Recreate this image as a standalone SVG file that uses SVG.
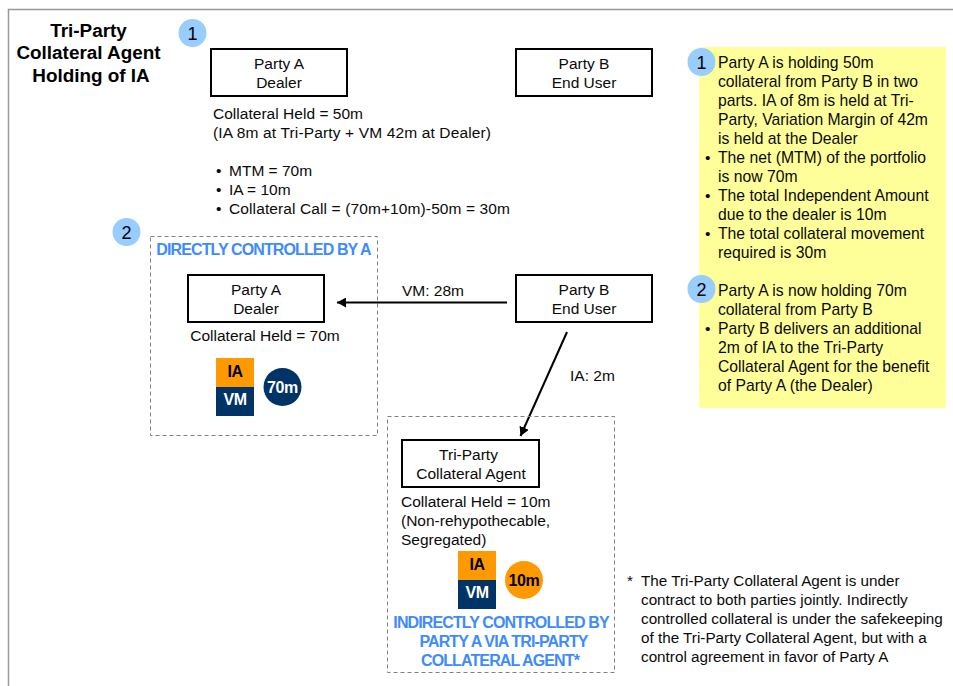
<svg xmlns="http://www.w3.org/2000/svg" width="953" height="686" viewBox="0 0 953 686">
<style>
text{font-family:"Liberation Sans",Arial,sans-serif;font-size:15.5px;fill:#0a0a0a}
.c{text-anchor:middle}
.t{font-weight:bold;font-size:18.9px;fill:#000}
.b{fill:none;stroke:#000;stroke-width:2}
.d{fill:none;stroke:#808080;stroke-width:1;stroke-dasharray:4 3}
.n{fill:#99ccff}
.num{font-size:18px;text-anchor:middle;fill:#000}
.bl{font-weight:bold;font-size:16px;fill:#3d8bfd;text-anchor:middle;letter-spacing:-.88px}
.k{font-weight:bold;font-size:16px;text-anchor:middle;letter-spacing:-.4px}
.w{fill:#fff}
.l{stroke:#000;stroke-width:2;fill:none}
.f{font-size:15.25px}
.p{font-size:15.72px}
</style>
<defs><marker id="a" markerUnits="userSpaceOnUse" markerWidth="10" markerHeight="10" refX="9" refY="5" orient="auto"><path d="M0 0L9 5L0 10Z" fill="#000"/></marker></defs>
<path d="M8.500 686V9.500H953" fill="none" stroke="#999" stroke-width="1.500"/>
<g id="title"><text class="t c" x="88.500" y="37">Tri-Party</text><text class="t c" x="88.500" y="59">Collateral Agent</text><text class="t c" x="91" y="82">Holding of IA</text></g>
<g id="step1"><circle class="n" cx="192.500" cy="33" r="14"/><text class="num" x="192.500" y="39.500">1</text></g>
<g id="partyA1"><rect class="b" x="211" y="49" width="136" height="47"/><text class="c" x="279" y="69">Party A</text><text class="c" x="279" y="88">Dealer</text></g>
<g id="partyB1"><rect class="b" x="516" y="49" width="136" height="47"/><text class="c" x="584" y="69">Party B</text><text class="c" x="584" y="88">End User</text></g>
<g id="held1"><text x="213" y="119" textLength="150">Collateral Held = 50m</text><text x="213" y="138" textLength="278">(IA 8m at Tri-Party + VM 42m at Dealer)</text><text x="216" y="176">•</text><text x="229" y="176">MTM = 70m</text><text x="216" y="195">•</text><text x="229" y="195">IA = 10m</text><text x="216" y="214">•</text><text x="229" y="214" textLength="281">Collateral Call = (70m+10m)-50m = 30m</text></g>
<g id="step2"><circle class="n" cx="126.500" cy="232" r="14"/><text class="num" x="126.500" y="238.500">2</text></g>
<g id="zoneA"><rect class="d" x="150.500" y="236.500" width="227" height="199"/><text class="bl" x="263.500" y="255">DIRECTLY CONTROLLED BY A</text></g>
<g id="partyA2"><rect class="b" x="188" y="275" width="136" height="47"/><text class="c" x="256" y="295">Party A</text><text class="c" x="256" y="314">Dealer</text><text class="c" x="265" y="341">Collateral Held = 70m</text></g>
<g id="stackA"><rect x="216" y="358" width="38" height="29" fill="#ff9900"/><rect x="216" y="387" width="38" height="29" fill="#003366"/><text class="k" x="235" y="377" style="fill:#000">IA</text><text class="k w" x="235" y="405">VM</text><circle cx="282.500" cy="387" r="19" fill="#003366"/><text class="k w" x="282.500" y="393">70m</text></g>
<g id="partyB2"><rect class="b" x="516" y="275" width="136" height="47"/><text class="c" x="584" y="295">Party B</text><text class="c" x="584" y="314">End User</text></g>
<g id="connectors"><path class="l" d="M507 302.500H337" marker-end="url(#a)"/><path class="l" d="M567 332L520.500 436" marker-end="url(#a)"/><text x="402" y="296">VM: 28m</text><text x="570" y="381">IA: 2m</text></g>
<g id="zoneT"><rect class="d" x="387.500" y="416.500" width="227" height="256"/></g>
<g id="tri"><rect class="b" x="402" y="440" width="137" height="47"/><text class="c" x="468.500" y="460">Tri-Party</text><text class="c" x="471" y="479">Collateral Agent</text><text x="401" y="507">Collateral Held = 10m</text><text x="401" y="526">(Non-rehypothecable,</text><text x="401" y="545">Segregated)</text></g>
<g id="stackT"><rect x="458" y="551" width="38" height="29" fill="#ff9900"/><rect x="458" y="580" width="38" height="29" fill="#003366"/><text class="k" x="477" y="570" style="fill:#000">IA</text><text class="k w" x="477" y="598">VM</text><circle cx="524" cy="580" r="19" fill="#ff9900"/><text class="k" x="524" y="586" style="fill:#000">10m</text></g>
<g id="zoneTlabel"><text class="bl" x="501" y="628">INDIRECTLY CONTROLLED BY</text><text class="bl" x="503.500" y="647">PARTY A VIA TRI-PARTY</text><text class="bl" x="500" y="666">COLLATERAL AGENT*</text></g>
<g id="note"><rect x="699" y="47" width="247" height="361" fill="#ffff99"/>
<circle class="n" cx="701.500" cy="62" r="14"/><text class="num" x="701.500" y="68.500">1</text>
<text class="p" x="718" y="68">Party A is holding 50m</text><text class="p" x="718" y="87">collateral from Party B in two</text><text class="p" x="718" y="106">parts. IA of 8m is held at Tri-</text><text class="p" x="718" y="125">Party, Variation Margin of 42m</text><text class="p" x="718" y="144">is held at the Dealer</text>
<text x="705" y="163">•</text><text class="p" x="718" y="163">The net (MTM) of the portfolio</text><text class="p" x="718" y="182">is now 70m</text>
<text x="705" y="201">•</text><text class="p" x="718" y="201">The total Independent Amount</text><text class="p" x="718" y="220">due to the dealer is 10m</text>
<text x="705" y="239">•</text><text class="p" x="718" y="239">The total collateral movement</text><text class="p" x="718" y="258">required is 30m</text>
<circle class="n" cx="701.500" cy="289" r="14"/><text class="num" x="701.500" y="295.500">2</text>
<text class="p" x="718" y="296">Party A is now holding 70m</text><text class="p" x="718" y="315">collateral from Party B</text>
<text x="705" y="334">•</text><text class="p" x="718" y="334">Party B delivers an additional</text><text class="p" x="718" y="353">2m of IA to the Tri-Party</text><text class="p" x="718" y="372">Collateral Agent for the benefit</text><text class="p" x="718" y="391">of Party A (the Dealer)</text></g>
<g id="footnote"><text class="f" x="627" y="586">*</text><text class="f" x="641" y="586">The Tri-Party Collateral Agent is under</text><text class="f" x="641" y="605">contract to both parties jointly.  Indirectly</text><text class="f" x="641" y="624">controlled collateral is under the safekeeping</text><text class="f" x="641" y="643">of the Tri-Party Collateral Agent, but with a</text><text class="f" x="641" y="662">control agreement in favor of Party A</text></g>
</svg>
